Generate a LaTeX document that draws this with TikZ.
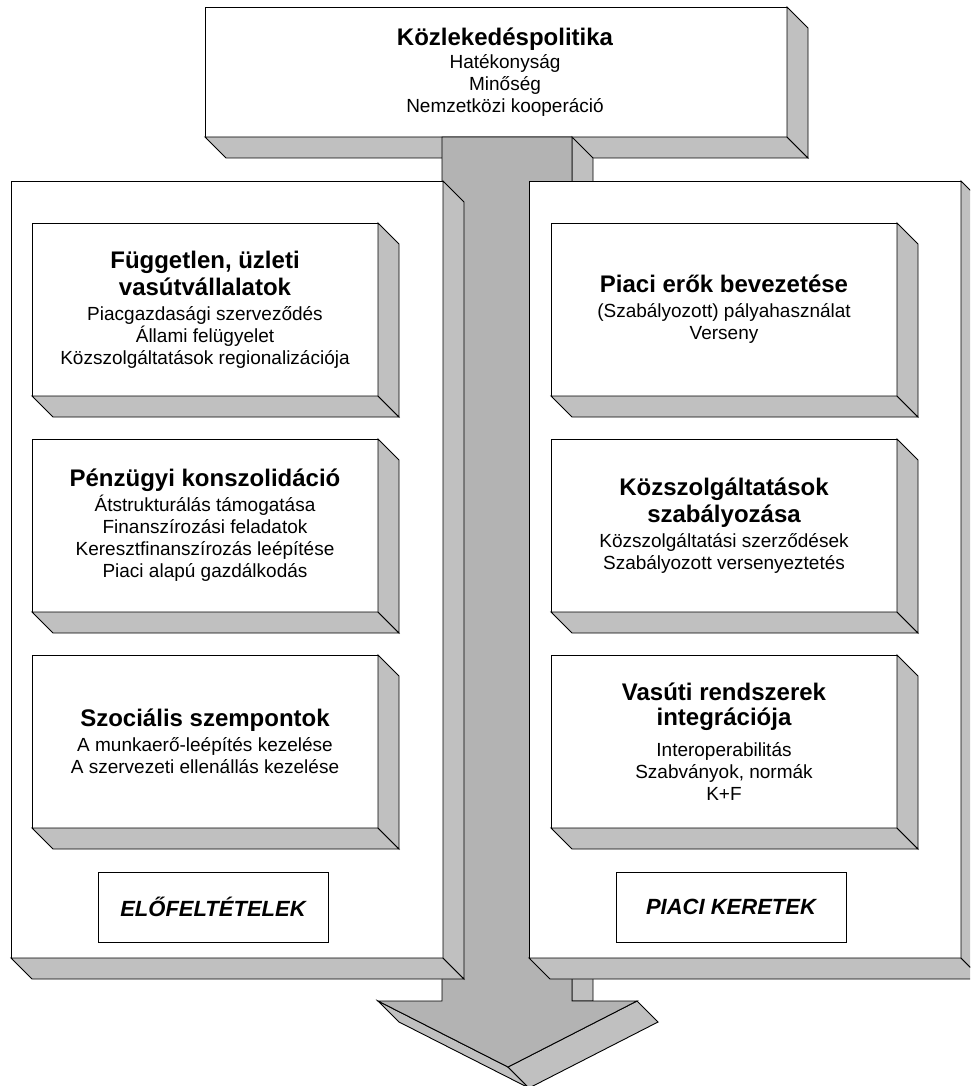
\documentclass[tikz,border=0pt]{standalone}
\usepackage{fontspec}
\setmainfont{Liberation Sans}
\usetikzlibrary{calc}
\definecolor{facegray}{HTML}{C0C0C0}
\definecolor{arrowgray}{HTML}{B3B3B3}

\tikzset{
  solidbox/.style={draw=black, line width=0.9pt, fill=white, rectangle,
    inner sep=0pt, outer sep=0pt, align=center, anchor=north west,
    font=\fontsize{19}{22}\selectfont},
  plaintext/.style={inner sep=0pt, align=center, font=\fontsize{19}{22}\selectfont},
  depthface/.style={draw=black, line width=0.9pt, fill=facegray, line join=miter},
  arrowbody/.style={draw=black, line width=0.9pt, fill=arrowgray, line join=miter},
  flatlabel/.style={draw=black, line width=0.9pt, fill=white, rectangle,
    inner sep=0pt, outer sep=0pt, anchor=north west,
    font=\fontsize{22}{25}\selectfont\bfseries\itshape},
}
% bold heading line inside a box
\newcommand\headline[1]{{\fontsize{24}{26}\selectfont\bfseries #1}}
% bottom and right faces of an extruded box
\newcommand\depthfaces[1]{%
  \filldraw[depthface] (#1.south west) -- ++(21,21) -- ($(#1.south east)+(21,21)$) -- (#1.south east) -- cycle;
  \filldraw[depthface] (#1.north east) -- ++(21,21) -- ($(#1.south east)+(21,21)$) -- (#1.south east) -- cycle;
}

\begin{document}
\begin{tikzpicture}[x=1pt,y=-1pt]
\clip (0,0) rectangle (970,1086);
\fill[white] (0,0) rectangle (970,1086);

% transport policy block on top
\node[solidbox, minimum width=582pt, minimum height=130pt] (policy) at (205,7) {};
\depthfaces{policy}
\node[plaintext] (policytext) at (505,72)
  {\headline{Közlekedéspolitika}\\[1pt] Hatékonyság\\ Minőség\\ Nemzetközi kooperáció};

% the big downward arrow
\coordinate (shaftTL) at (442,137);
\coordinate (shaftTR) at (572,137);
\coordinate (headL) at (378,1001);
\coordinate (headR) at (637,1001);
\coordinate (tip) at (508,1067);
\filldraw[depthface] (shaftTR) -- ++(21,21) -- (593,1001) -- (572,1001) -- cycle;
\filldraw[depthface] (headL) -- ++(21,21) -- ($(tip)+(21,21)$) -- (tip) -- cycle;
\filldraw[depthface] (tip) -- ++(21,21) -- ($(headR)+(21,21)$) -- (headR) -- cycle;
\filldraw[arrowbody] (shaftTL) -- (442,1001) -- (headL) -- (tip) -- (headR)
  -- (572,1001) -- (shaftTR) -- cycle;

% two large panels
\node[solidbox, minimum width=432pt, minimum height=777pt] (leftpanel) at (11,181) {};
\depthfaces{leftpanel}
\node[solidbox, minimum width=432pt, minimum height=777pt] (rightpanel) at (529,181) {};
\depthfaces{rightpanel}

% left column
\node[solidbox, minimum width=346pt, minimum height=173pt] (l1) at (32,223)
  {\headline{Független, üzleti}\\[3pt] \headline{vasútvállalatok}\\[3pt]
   Piacgazdasági szerveződés\\ Állami felügyelet\\ Közszolgáltatások regionalizációja};
\depthfaces{l1}
\node[solidbox, minimum width=346pt, minimum height=173pt] (l2) at (32,439)
  {\headline{Pénzügyi konszolidáció}\\[3pt] Átstrukturálás támogatása\\ Finanszírozási feladatok\\
   Keresztfinanszírozás leépítése\\ Piaci alapú gazdálkodás};
\depthfaces{l2}
\node[solidbox, minimum width=346pt, minimum height=173pt] (l3) at (32,655)
  {\headline{Szociális szempontok}\\[3pt] A munkaerő-leépítés kezelése\\ A szervezeti ellenállás kezelése};
\depthfaces{l3}

% right column
\node[solidbox, minimum width=346pt, minimum height=173pt] (r1) at (551,223)
  {\headline{Piaci erők bevezetése}\\[3pt] (Szabályozott) pályahasználat\\ Verseny};
\depthfaces{r1}
\node[solidbox, minimum width=346pt, minimum height=173pt] (r2) at (551,439)
  {\headline{Közszolgáltatások}\\[3pt] \headline{szabályozása}\\[3pt]
   Közszolgáltatási szerződések\\ Szabályozott versenyeztetés};
\depthfaces{r2}
\node[solidbox, minimum width=346pt, minimum height=173pt] (r3) at (551,655)
  {\headline{Vasúti rendszerek}\\[3pt] \headline{integrációja}\\[9pt]
   Interoperabilitás\\ Szabványok, normák\\ K+F};
\depthfaces{r3}

% panel captions
\node[flatlabel, minimum width=230pt, minimum height=70pt] (prereq) at (98,872) {ELŐFELTÉTELEK};
\node[flatlabel, minimum width=230pt, minimum height=70pt] (market) at (616,872) {PIACI KERETEK};
\end{tikzpicture}
\end{document}
